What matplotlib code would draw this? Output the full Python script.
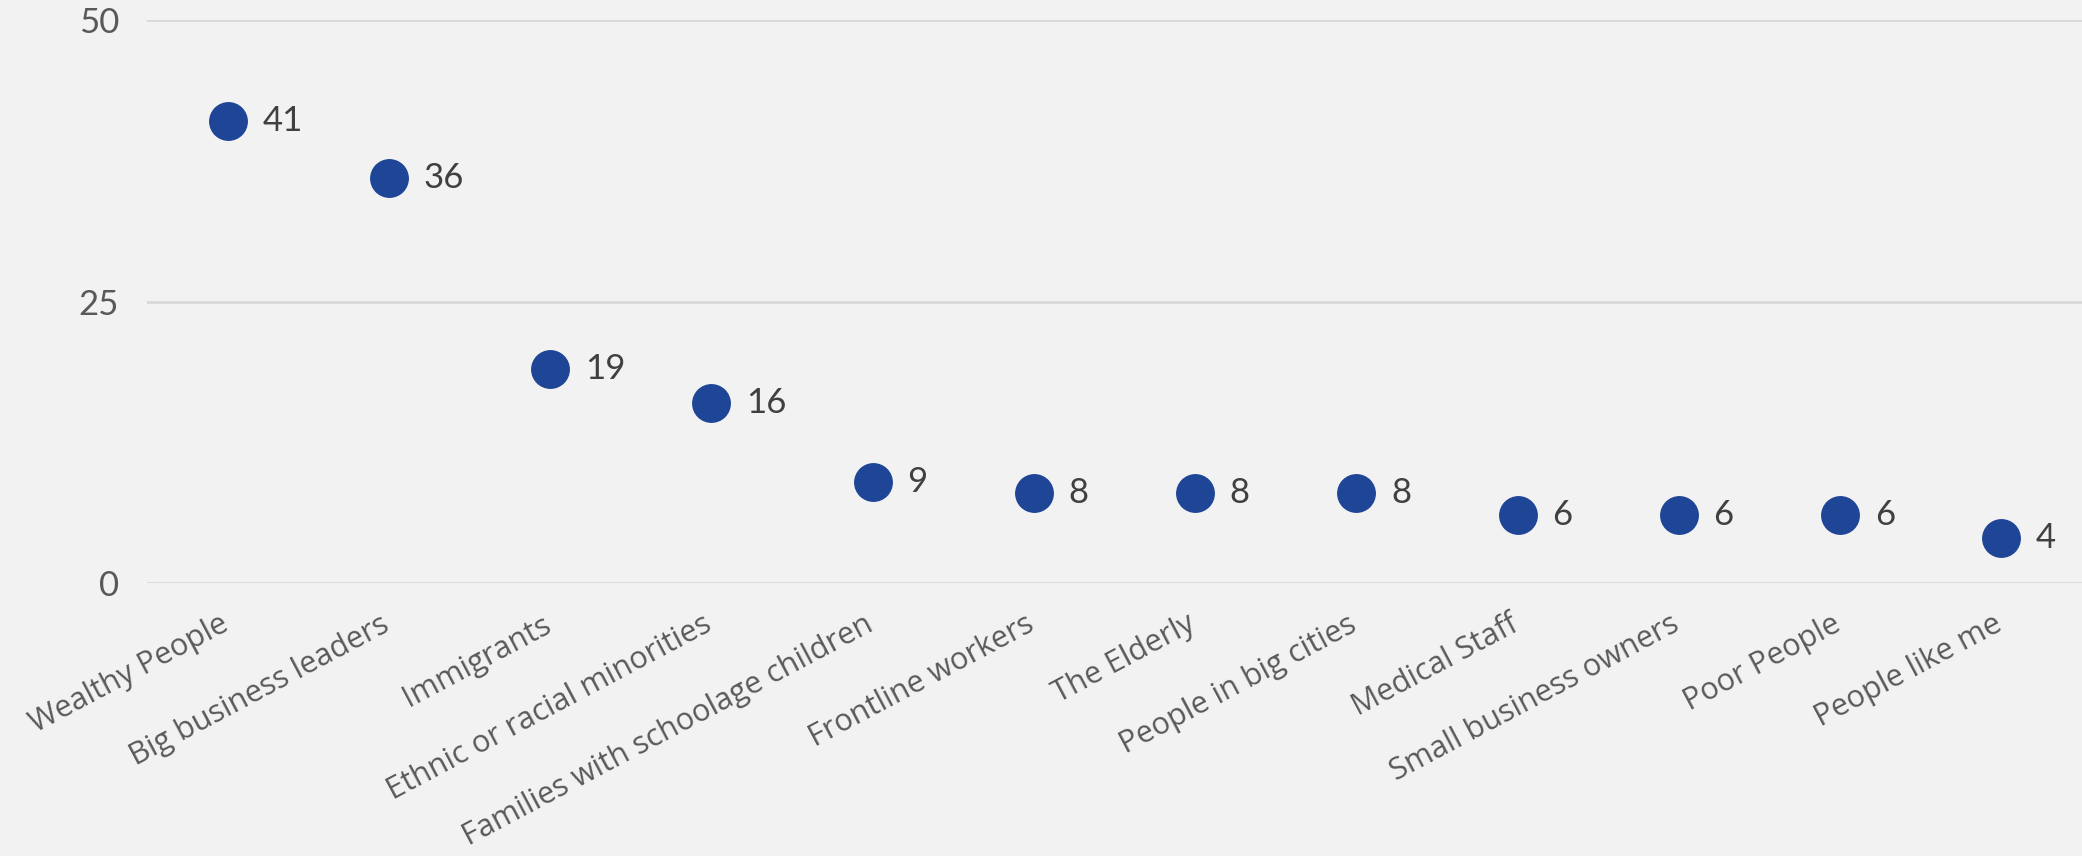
import matplotlib.pyplot as plt
from matplotlib.transforms import ScaledTranslation

categories = ["Wealthy People", "Big business leaders", "Immigrants",
              "Ethnic or racial minorities", "Families with schoolage children",
              "Frontline workers", "The Elderly", "People in big cities",
              "Medical Staff", "Small business owners", "Poor People", "People like me"]
values = [41, 36, 19, 16, 9, 8, 8, 8, 6, 6, 6, 4]
yticks = [0, 25, 50]

plt.rcParams['font.family'] = ['Lato', 'DejaVu Sans']

bg = '#F2F2F2'
fig = plt.figure(figsize=(20.82, 8.56), dpi=100, facecolor=bg)
ax = fig.add_axes([0.0706, 0.3189, 0.9294, 0.6577], facecolor=bg)

x = list(range(len(categories)))
ax.plot(x, values, 'o', color='#1F4596', ms=28, mec='none', zorder=3, clip_on=False)
for xi, v in zip(x, values):
    ax.annotate(str(v), (xi, v), xytext=(25, 0), textcoords='offset points',
                va='center', ha='left', fontsize=25, color='#404040')

ax.set_xlim(-0.5, len(categories) - 0.5)
ax.set_ylim(0, 50)
ax.set_yticks(yticks)
ax.grid(axis='y', color='#D9D9D9', lw=2)
ax.set_axisbelow(True)
for s in ax.spines.values():
    s.set_visible(False)
ax.tick_params(axis='y', length=0, pad=20, labelsize=25, labelcolor='#595959')
ax.tick_params(axis='x', length=0, pad=19)
ax.set_xticks(x)
ax.set_xticklabels(categories, rotation=28, ha='right', va='top', rotation_mode='anchor',
                   fontsize=22, color='#595959', family=['Open Sans', 'DejaVu Sans'])
shift = ScaledTranslation(-6 / 72, 0, fig.dpi_scale_trans)
for lab in ax.get_xticklabels():
    lab.set_transform(lab.get_transform() + shift)

fig.savefig('out.png', dpi=100, facecolor=bg)
